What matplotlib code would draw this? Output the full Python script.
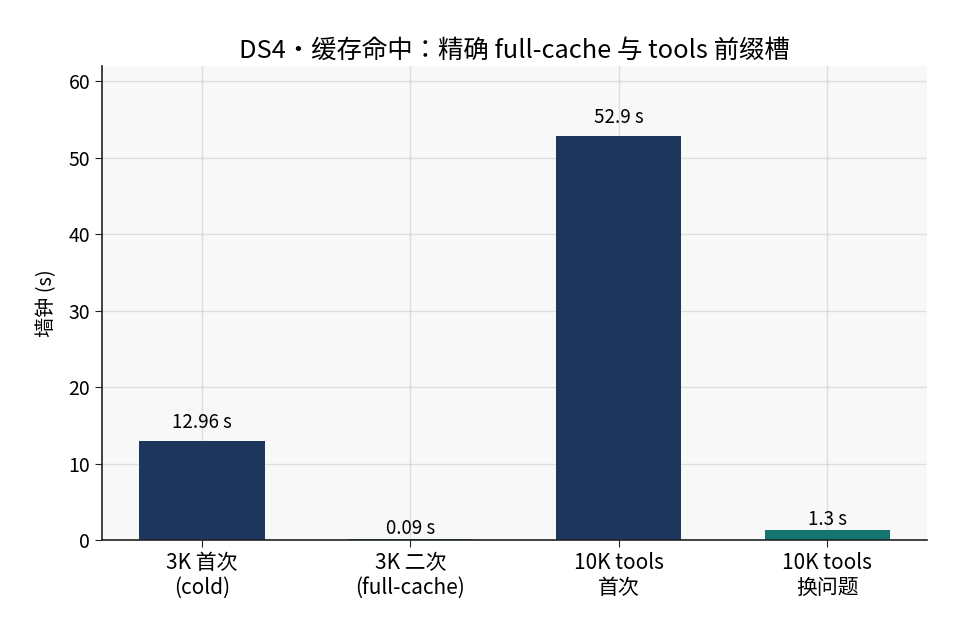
import numpy as np
import matplotlib
matplotlib.use('Agg')
import matplotlib.pyplot as plt

plt.rcParams['font.family'] = ['Noto Sans CJK JP', 'DejaVu Sans']

labels = ['3K 首次\n(cold)', '3K 二次\n(full-cache)', '10K tools\n首次', '10K tools\n换问题']
wall = [12.96, 0.09, 52.9, 1.3]
value_text = ['12.96 s', '0.09 s', '52.9 s', '1.3 s']
colors = ['#1d365c', '#137470', '#1d365c', '#137470']

fig, ax = plt.subplots(figsize=(9.62, 6.36), dpi=100)
ax.set_facecolor('#f8f8f8')
x = np.arange(len(labels))
bars = ax.bar(x, wall, width=0.6, color=colors, zorder=2)
for b, t in zip(bars, value_text):
    h = b.get_height()
    off = 1.0 if h > 5 else 0.0
    ax.text(b.get_x() + b.get_width() / 2, h + off, t,
            ha='center', va='bottom', fontsize=13.5, zorder=4)

ax.set_xticks(x)
ax.set_xticklabels(labels, fontsize=15)
ax.tick_params(axis='y', labelsize=14)
ax.tick_params(colors='#222222', labelcolor='black', length=5)
ax.set_ylim(0, 62)
ax.set_ylabel('墙钟 (s)', fontsize=14.5, labelpad=8)
ax.set_title('DS4・缓存命中：精确 full-cache 与 tools 前缀槽', fontsize=18.3)
ax.grid(True, color='#b0b0b0', linewidth=1.0, alpha=0.35, zorder=3)
for s in ['top', 'right']:
    ax.spines[s].set_visible(False)
for s in ['left', 'bottom']:
    ax.spines[s].set_color('#222222')
    ax.spines[s].set_linewidth(1.2)

plt.subplots_adjust(left=0.106, right=0.964, top=0.896, bottom=0.151)
fig.savefig('out.png', dpi=100)
